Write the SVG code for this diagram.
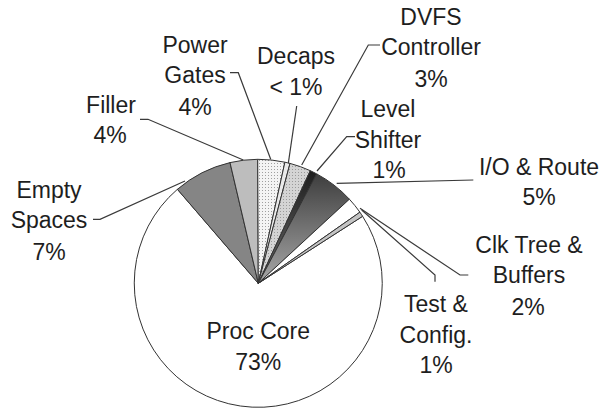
<svg xmlns="http://www.w3.org/2000/svg" width="602" height="409" viewBox="0 0 602 409">
<style>
text{font-family:"Liberation Sans",Arial,sans-serif;font-size:23px;fill:#1e1e1e;text-anchor:middle}
.s{stroke:#333;stroke-width:1;stroke-linejoin:round}
.ld{fill:none;stroke:#3a3a3a;stroke-width:1.2}
</style>
<defs>
<pattern id="dotsW" width="3" height="3" patternUnits="userSpaceOnUse"><rect width="3" height="3" fill="#f4f4f4"/><rect x="1" y="1" width="1" height="1" fill="#a0a0a0"/></pattern>
<pattern id="dotsG" width="3" height="3" patternUnits="userSpaceOnUse"><rect width="3" height="3" fill="#d4d4d4"/><rect x="1" y="1" width="1" height="1" fill="#9a9a9a"/></pattern>
<linearGradient id="io" gradientUnits="userSpaceOnUse" x1="0" y1="172" x2="0" y2="283"><stop offset="0" stop-color="#3c3c3c"/><stop offset="1" stop-color="#a8a8a8"/></linearGradient>
<linearGradient id="ls" gradientUnits="userSpaceOnUse" x1="0" y1="170" x2="0" y2="283"><stop offset="0" stop-color="#1e1e1e"/><stop offset="1" stop-color="#6a6a6a"/></linearGradient>
</defs>
<g id="proc-core"><path class="s" d="M258.3 283.3 L362.6 216.3 A124 124 0 1 1 177.4 189.3 Z" fill="#fff" stroke="#555"/><text x="258.3" y="338.5">Proc Core</text><text x="258.3" y="370">73%</text></g>
<g id="empty-spaces"><path class="s" d="M258.3 283.3 L177.4 189.3 A124 124 0 0 1 230.0 162.6 Z" fill="#858585"/><text x="49" y="198">Empty</text><text x="49" y="228">Spaces</text><text x="49" y="260">7%</text></g>
<g id="filler"><path class="s" d="M258.3 283.3 L230.0 162.6 A124 124 0 0 1 257.7 159.3 Z" fill="#bdbdbd"/><text x="111" y="113">Filler</text><text x="110" y="143">4%</text></g>
<g id="power-gates"><path class="s" d="M258.3 283.3 L257.7 159.3 A124 124 0 0 1 284.9 162.2 Z" fill="url(#dotsW)"/><text x="195" y="53">Power</text><text x="195" y="83">Gates</text><text x="195" y="115">4%</text></g>
<g id="decaps"><path class="s" d="M258.3 283.3 L284.9 162.2 A124 124 0 0 1 290.0 163.4 Z" fill="#eaeaea"/><text x="296" y="64">Decaps</text><text x="296" y="95">&lt; 1%</text></g>
<g id="dvfs-controller"><path class="s" d="M258.3 283.3 L290.0 163.4 A124 124 0 0 1 310.3 170.7 Z" fill="url(#dotsG)"/><text x="431" y="25">DVFS</text><text x="431" y="55">Controller</text><text x="431" y="87">3%</text></g>
<g id="level-shifter"><path class="s" d="M258.3 283.3 L310.3 170.7 A124 124 0 0 1 316.7 173.9 Z" fill="url(#ls)"/><text x="388" y="117">Level</text><text x="388" y="148">Shifter</text><text x="389" y="178">1%</text></g>
<g id="io-route"><path class="s" d="M258.3 283.3 L316.7 173.9 A124 124 0 0 1 349.4 199.2 Z" fill="url(#io)"/><text x="539" y="175">I/O &amp; Route</text><text x="539" y="205">5%</text></g>
<g id="clk-tree"><path class="s" d="M258.3 283.3 L349.4 199.2 A124 124 0 0 1 359.9 212.2 Z" fill="#fff"/><text x="529" y="253">Clk Tree &amp;</text><text x="529" y="283">Buffers</text><text x="528" y="315">2%</text></g>
<g id="test-config"><path class="s" d="M258.3 283.3 L359.9 212.2 A124 124 0 0 1 362.6 216.3 Z" fill="#c4c4c4"/><text x="436" y="312">Test &amp;</text><text x="436" y="343">Config.</text><text x="436" y="373">1%</text></g>
<g id="connectors">
<polyline class="ld" points="93,219.3 100,219.3 185,181"/>
<polyline class="ld" points="140,119.3 148,119.3 243.3,160"/>
<polyline class="ld" points="230,72.7 238.3,72.7 270.7,159.3"/>
<polyline class="ld" points="296.7,106 288.3,163.3"/>
<polyline class="ld" points="380,45 368.3,45 301.7,165"/>
<polyline class="ld" points="355,136.7 346.7,136.7 317,171"/>
<polyline class="ld" points="473.3,180 336.7,183.3"/>
<polyline class="ld" points="468.3,275 460,275 360,208.3"/>
<polyline class="ld" points="435,281.7 435,275 361.7,210"/>
</g>
</svg>
